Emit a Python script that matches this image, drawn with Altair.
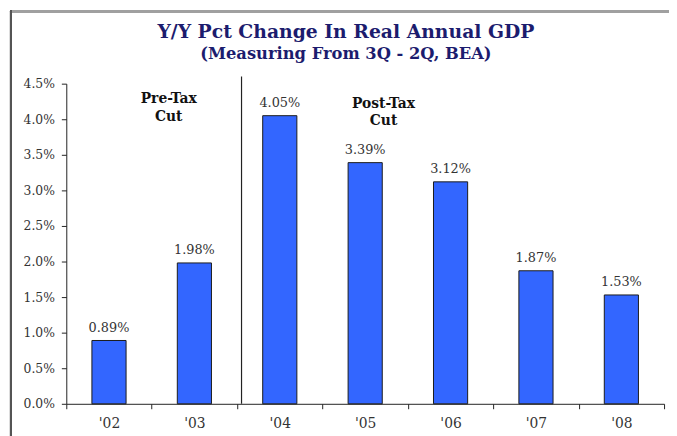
import altair as alt
import pandas as pd

years = ["'02", "'03", "'04", "'05", "'06", "'07", "'08"]
values = [0.0089, 0.0198, 0.0405, 0.0339, 0.0312, 0.0187, 0.0153]
y_ticks = [0.0, 0.005, 0.01, 0.015, 0.02, 0.025, 0.03, 0.035, 0.04, 0.045]

notes = ["Pre-Tax\nCut", "Post-Tax\nCut"]
note_years = ["'03", "'05"]
note_y = [0.0428, 0.0422]

divider_year = ["'04"]
divider_top = [0.046]

title_text = "Y/Y Pct Change In Real Annual GDP"
subtitle_text = "(Measuring From 3Q - 2Q, BEA)"

SERIF = "DejaVu Serif"
TXT = "#333333"
NAVY = "#1c1c6e"

df = pd.DataFrame({"yr": years, "v": values})
xscale = alt.Scale(domain=years, paddingInner=0, paddingOuter=0)
yscale = alt.Scale(domain=[0, 0.045], nice=False)

xaxis = alt.Axis(
    title=None, labelAngle=0, tickBand="extent", domainColor="#222", tickColor="#222",
    labelFont=SERIF, labelFontSize=14, labelColor=TXT, tickSize=5, labelPadding=8)
yaxis = alt.Axis(
    title=None, values=y_ticks, format=".1%", grid=False,
    labelOverlap=False, labelFlush=False, domainColor="#222", tickColor="#222", labelFont=SERIF,
    labelFontSize=12.5, labelColor=TXT, tickSize=5, labelPadding=7)

def xq(**kw):
    return alt.X("yr:N", scale=xscale, sort=years, axis=xaxis, **kw)

def yq(field):
    return alt.Y(field, scale=yscale, axis=yaxis)

bars = alt.Chart(df).mark_bar(
    width=alt.RelativeBandSize(0.4), color="#3366FF", stroke="#1a1a1a", strokeWidth=1
).encode(x=xq(), y=yq("v:Q"))

vals = alt.Chart(df).mark_text(
    baseline="bottom", dy=-6, font=SERIF, fontSize=13, color=TXT
).encode(x=xq(), y=yq("v:Q"), text=alt.Text("v:Q", format=".2%"))

div_df = pd.DataFrame({"yr": divider_year, "top": divider_top, "bottom": [0.0]})
divider = alt.Chart(div_df).mark_rule(color="#222", strokeWidth=1.2, xOffset=4.5).encode(
    x=xq(bandPosition=0), y=yq("top:Q"), y2="bottom:Q")

pre = alt.Chart(pd.DataFrame({"yr": [note_years[0]], "y": [note_y[0]], "t": [notes[0]]})).mark_text(
    font=SERIF, fontSize=14, fontWeight="bold", color="#111", lineBreak="\n",
    lineHeight=18, baseline="middle", align="center"
).encode(x=xq(bandPosition=0.2), y=yq("y:Q"), text="t:N")

post = alt.Chart(pd.DataFrame({"yr": [note_years[1]], "y": [note_y[1]], "t": [notes[1]]})).mark_text(
    font=SERIF, fontSize=14, fontWeight="bold", color="#111", lineBreak="\n",
    lineHeight=18, baseline="middle", align="center"
).encode(x=xq(bandPosition=0.715), y=yq("y:Q"), text="t:N")

title = alt.Chart(pd.DataFrame({"t": [title_text]})).mark_text(
    font=SERIF, fontSize=19, fontWeight="bold", color=NAVY, baseline="middle", align="center"
).encode(x=alt.value(283), y=alt.value(-52), text="t:N")

subtitle = alt.Chart(pd.DataFrame({"t": [subtitle_text]})).mark_text(
    font=SERIF, fontSize=16.5, fontWeight="bold", color=NAVY, baseline="middle", align="center"
).encode(x=alt.value(283), y=alt.value(-30), text="t:N")

frame_top = alt.Chart(df).mark_rule(color="#a0a0a0", strokeWidth=2).encode(
    x=alt.value(-57), x2=alt.value(612), y=alt.value(-73))
frame_left = alt.Chart(df).mark_rule(color="#555555", strokeWidth=2).encode(
    x=alt.value(-56), y=alt.value(-74), y2=alt.value(360))

chart = alt.layer(bars, frame_top, frame_left, vals, divider, pre, post, title, subtitle).properties(
    width=605, height=324,
    autosize=alt.AutoSizeParams(type="none"),
    padding={"left": 59, "top": 74, "right": 5, "bottom": 30},
    background="white",
).configure_view(stroke=None)

chart.save("out.html", embed_options={"renderer": "svg", "actions": False})
